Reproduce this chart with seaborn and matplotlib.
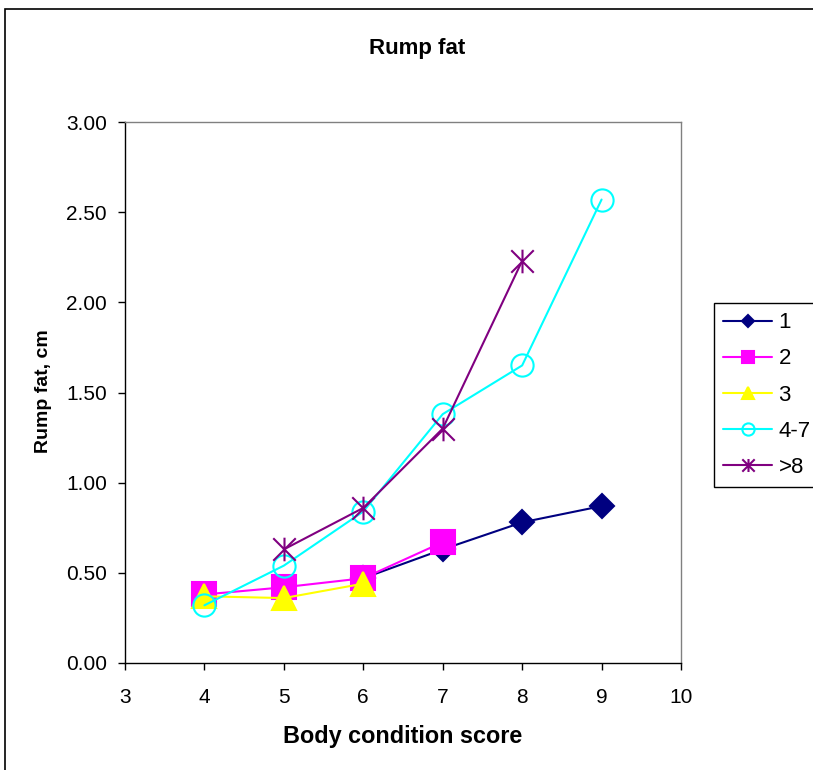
import matplotlib
matplotlib.use("Agg")
import matplotlib.pyplot as plt
from matplotlib.patches import Rectangle
from matplotlib.path import Path
from matplotlib.ticker import FormatStrFormatter, MultipleLocator
import pandas as pd
import seaborn as sns

# --------------------------------------------------------------------------- #
# values
SERIES = ["1", "2", "3", "4-7", ">8"]
BCS_1 = [6, 7, 8, 9]
FAT_1 = [0.47, 0.63, 0.78, 0.87]
BCS_2 = [4, 5, 6, 7]
FAT_2 = [0.38, 0.42, 0.47, 0.67]
BCS_3 = [4, 5, 6]
FAT_3 = [0.37, 0.36, 0.44]
BCS_47 = [4, 5, 6, 7, 8, 9]
FAT_47 = [0.32, 0.54, 0.84, 1.38, 1.65, 2.57]
BCS_8 = [5, 6, 7, 8]
FAT_8 = [0.63, 0.86, 1.30, 2.23]
# --------------------------------------------------------------------------- #

frames = []
for name, xs, ys in zip(SERIES,
                        [BCS_1, BCS_2, BCS_3, BCS_47, BCS_8],
                        [FAT_1, FAT_2, FAT_3, FAT_47, FAT_8]):
    frames.append(pd.DataFrame({"bcs": xs, "fat": ys, "group": name}))
df = pd.concat(frames, ignore_index=True)

# Excel-style star: X plus vertical bar
star = Path([(-1, -1), (1, 1), (-1, 1), (1, -1), (0, -1.05), (0, 1.05)],
            [Path.MOVETO, Path.LINETO, Path.MOVETO, Path.LINETO,
             Path.MOVETO, Path.LINETO])

STYLE = {
    "1":   dict(color="#000080", marker="D", ms=12, mfc="#000080"),
    "2":   dict(color="#FF00FF", marker="s", ms=17, mfc="#FF00FF"),
    "3":   dict(color="#FFFF00", marker="^", ms=17, mfc="#FFFF00"),
    "4-7": dict(color="#00FFFF", marker="o", ms=16, mfc="none"),
    ">8":  dict(color="#800080", marker=star, ms=17, mfc="none"),
}

sns.set_theme(style="white")
plt.rcParams["font.family"] = ["Liberation Sans", "DejaVu Sans"]
plt.rcParams.update({"text.color": "black", "axes.labelcolor": "black",
                     "xtick.color": "black", "ytick.color": "black"})

fig = plt.figure(figsize=(8.13, 7.7), dpi=100)
ax = fig.add_axes([125 / 813, 1 - 663 / 770, 556 / 813, 541 / 770])

for name in SERIES:
    s = STYLE[name]
    sns.lineplot(data=df[df["group"] == name], x="bcs", y="fat", ax=ax,
                 color=s["color"], marker=s["marker"], markersize=s["ms"],
                 markerfacecolor=s["mfc"], markeredgecolor=s["color"],
                 markeredgewidth=1.5, linewidth=1.5, label=name,
                 estimator=None, sort=False)

ax.set_xlim(3, 10)
ax.set_ylim(0, 3)
ax.xaxis.set_major_locator(MultipleLocator(1))
ax.yaxis.set_major_locator(MultipleLocator(0.5))
ax.yaxis.set_major_formatter(FormatStrFormatter("%.2f"))
ax.tick_params(axis="both", direction="out", length=5, width=1,
               color="black", labelcolor="black", labelsize=15,
               left=True, bottom=True)
ax.tick_params(axis="x", pad=13)
ax.tick_params(axis="y", pad=8)
ax.set_xlabel("")
ax.set_ylabel("")
for side in ["left", "bottom"]:
    ax.spines[side].set_color("black")
    ax.spines[side].set_linewidth(1)
for side in ["top", "right"]:
    ax.spines[side].set_color("#808080")
    ax.spines[side].set_linewidth(1)
ax.grid(False)

fig.text(417 / 813, 1 - 54 / 770, "Rump fat", ha="center", va="baseline",
         fontsize=16, fontweight="bold", color="black")
fig.text(403 / 813, 1 - 743 / 770, "Body condition score", ha="center",
         va="baseline", fontsize=16.8, fontweight="bold", color="black")
fig.text(43 / 813, 1 - 391 / 770, "Rump fat, cm", ha="center", va="center",
         rotation=90, fontsize=14, fontweight="bold", color="black")

leg = ax.legend(loc="upper left", bbox_to_anchor=(714 / 813, 1 - 303 / 770),
                bbox_transform=fig.transFigure, frameon=True, fancybox=False,
                edgecolor="black", framealpha=1, fontsize=16,
                markerscale=0.55, handlelength=2.2, borderpad=0.42,
                labelspacing=0.68, handletextpad=0.28, borderaxespad=0,
                labelcolor="black")
leg.get_frame().set_linewidth(1)

# outer chart-area border (runs off the right and bottom edges)
fig.add_artist(Rectangle((5 / 813, -0.1), 2, 1 - 9 / 770 + 0.1,
                         transform=fig.transFigure, fill=False,
                         edgecolor="black", linewidth=1.2))

fig.savefig("out.png", dpi=100, facecolor="white")
